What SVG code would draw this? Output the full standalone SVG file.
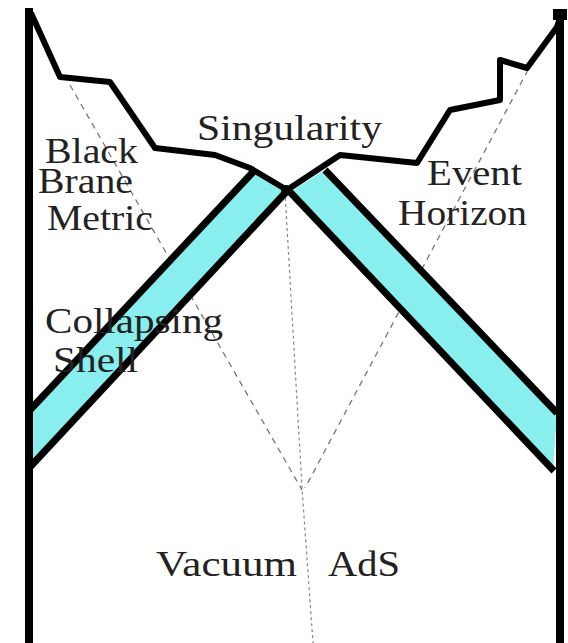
<svg xmlns="http://www.w3.org/2000/svg" width="568" height="643" viewBox="0 0 568 643">
<style>
.lbl{font-family:"Liberation Serif","Times New Roman",serif;font-size:35px;fill:#222}
.thick{fill:none;stroke:#000;stroke-linejoin:round;stroke-linecap:butt}
.dash{fill:none;stroke:#777;stroke-width:1.3;stroke-dasharray:6 5}
.dot{fill:none;stroke:#888;stroke-width:1.2;stroke-dasharray:3 3}
.shell{fill:#88EEEE;stroke:none}
</style>
<rect width="568" height="643" fill="#fff"/>
<g id="guides">
<polyline class="dash" points="70,85 302,490"/>
<polyline class="dash" points="528,70 305,488"/>
<polyline class="dot" points="285,192 302,488 313,643"/>
</g>
<g id="shell-left">
<polygon class="shell" points="30,410 253,172 287,190 30,467"/>
<line class="thick" stroke-width="7" x1="30" y1="410" x2="253" y2="172"/>
<line class="thick" stroke-width="7" x1="30" y1="467" x2="288" y2="190"/>
</g>
<g id="shell-right">
<polygon class="shell" points="290,192 325,170 557,413 553,470"/>
<line class="thick" stroke-width="7" x1="325" y1="170" x2="557" y2="413"/>
<line class="thick" stroke-width="7" x1="290" y1="192" x2="554" y2="471"/>
</g>
<g id="boundaries">
<line class="thick" stroke-width="8" x1="29" y1="8" x2="29" y2="643"/>
<line class="thick" stroke-width="8" x1="560" y1="12" x2="560" y2="643"/>
<rect x="553" y="9" width="14" height="11" fill="#000"/>
</g>
<g id="singularity-line">
<polyline class="thick" stroke-width="6" points="31,13 60,77 110,82 155,148 215,155 250,168 287,190 340,155 417,163 450,110 500,100 500,60 527,68 557,27 561,15"/>
<circle cx="286" cy="190" r="5" fill="#000"/>
</g>
<g id="labels">
<text class="lbl" x="197" y="140" textLength="185" lengthAdjust="spacingAndGlyphs">Singularity</text>
<text class="lbl" x="45" y="163" textLength="93" lengthAdjust="spacingAndGlyphs">Black</text>
<text class="lbl" x="38" y="193" textLength="95" lengthAdjust="spacingAndGlyphs">Brane</text>
<text class="lbl" x="47" y="230" textLength="106" lengthAdjust="spacingAndGlyphs">Metric</text>
<text class="lbl" x="427" y="185" textLength="95" lengthAdjust="spacingAndGlyphs">Event</text>
<text class="lbl" x="398" y="225" textLength="129" lengthAdjust="spacingAndGlyphs">Horizon</text>
<text class="lbl" x="45" y="333" textLength="178" lengthAdjust="spacingAndGlyphs">Collapsing</text>
<text class="lbl" x="53" y="372" textLength="85" lengthAdjust="spacingAndGlyphs">Shell</text>
<text class="lbl" x="156" y="576" textLength="141" lengthAdjust="spacingAndGlyphs">Vacuum</text>
<text class="lbl" x="328" y="576" textLength="72" lengthAdjust="spacingAndGlyphs">AdS</text>
</g>
</svg>
